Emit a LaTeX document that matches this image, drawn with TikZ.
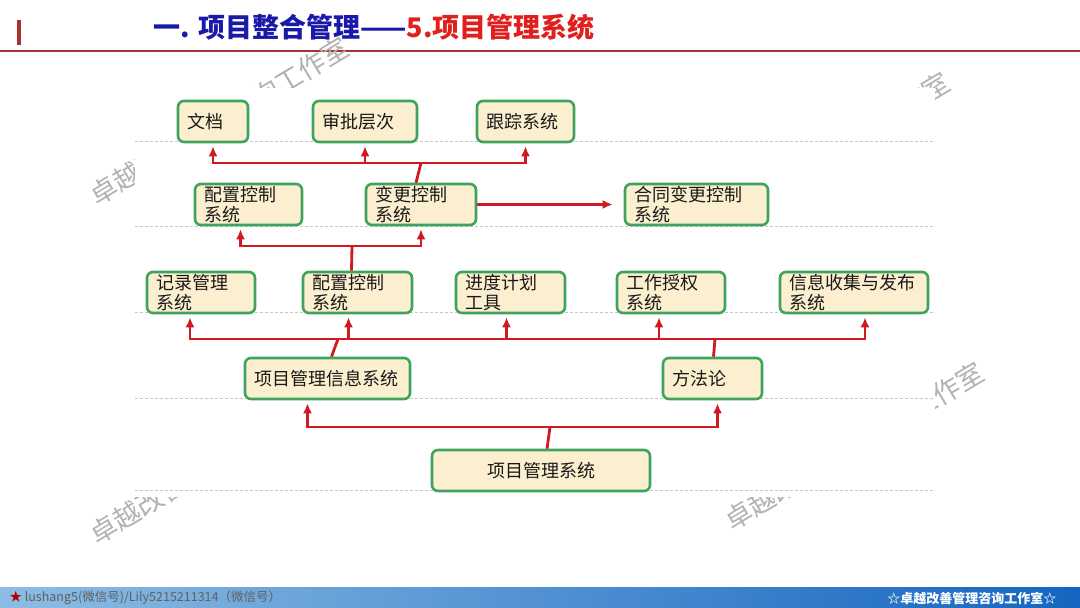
\documentclass[tikz,border=0pt]{standalone}
\usepackage{fontspec}
\setmainfont{Noto Sans CJK SC}
\usepackage{tikz}
\usetikzlibrary{arrows.meta,calc}

\definecolor{boxfill}{HTML}{FCEFD0}
\definecolor{boxgreen}{HTML}{3DA35D}
\definecolor{arrred}{HTML}{D01A22}
\definecolor{titleblue}{HTML}{1A1AA8}
\definecolor{titlered}{HTML}{E0201E}
\definecolor{rulered}{HTML}{A83232}
\definecolor{barlight}{HTML}{E2EEF8}
\definecolor{barleft}{HTML}{8DBDE4}
\definecolor{barright}{HTML}{1565C0}

\begin{document}
\begin{tikzpicture}[x=1pt, y=-1pt,
  font=\fontsize{18}{20}\selectfont,
  box/.style={draw=boxgreen, fill=boxfill, line width=2.6pt, rounded corners=6pt,
    inner xsep=9pt, inner ysep=0pt, minimum height=41pt, align=left,
    text=black!90, text width=#1},
  box/.default=80pt,
  arr/.style={-{Latex[length=10pt,width=9pt]}, draw=arrred, line width=2.8pt, shorten >=3pt},
  ln/.style={draw=arrred, line width=2.8pt},
  guide/.style={draw=gray!45, dash pattern=on 3pt off 2pt, line width=0.8pt},
  wm/.style={text=gray!60, font=\fontsize{27}{27}\selectfont, rotate=31, inner sep=0pt}
]
\useasboundingbox (0,0) rectangle (1080,608);
\fill[white] (0,0) rectangle (1080,608);

% title
\fill[rulered] (17,20) rectangle (21,45);
\draw[rulered, line width=1.5pt] (0,51) -- (1080,51);
\node[anchor=west, font=\fontsize{27}{27}\selectfont\bfseries] (ttl) at (150,27)
  {\textcolor{titleblue}{一. 项目整合管理——}\textcolor{titlered}{5.项目管理系统}};

% watermarks, mostly hidden under the diagram
\node[wm, anchor=west] (wm1) at (92,198) {卓越改善管理咨询工作室};
\node[wm, anchor=east] (wm2) at (948,80) {卓越改善管理咨询工作室};
\node[wm, anchor=west] (wm3) at (727,523) {卓越改善管理咨询工作室};
\node[wm, anchor=west] (wm4) at (92,537) {卓越改善管理咨询工作室};
\fill[white] (135,88) rectangle (935,497);

\foreach \y in {141,226,312,398,490}
  \draw[guide] (135,\y) -- (935,\y);

% row 1
\node[box=52pt] (wd) at (213,121.5) {文档};
\node[box=86pt] (sp) at (365,121.5) {审批层次};
\node[box=79pt] (gz) at (525.5,121.5) {跟踪系统};
% row 2
\node[box=89pt] (pz) at (248.5,204.5) {配置控制\\系统};
\node[box=92pt] (bg) at (421,204.5) {变更控制\\系统};
\node[box=125pt] (ht) at (696.5,204.5) {合同变更控制\\系统};
% row 3
\node[box=90pt] (jl) at (201,292.5) {记录管理\\系统};
\node[box=91pt] (pz2) at (357.5,292.5) {配置控制\\系统};
\node[box=91pt] (jd) at (510.5,292.5) {进度计划\\工具};
\node[box=90pt] (gzsq) at (671,292.5) {工作授权\\系统};
\node[box=130pt] (xx) at (854,292.5) {信息收集与发布\\系统};
% row 4
\node[box=147pt] (mis) at (327.5,378.5) {项目管理信息系统};
\node[box=81pt] (ff) at (712.5,378.5) {方法论};
% row 5
\node[box=200pt, align=center] (pms) at (541,470.5) {项目管理系统};

% connectors
\coordinate (b1) at (421,163);
\draw[ln] ([xshift=-5pt]bg.north) -- (b1);
\draw[arr] (b1) -| (wd.south);
\draw[arr] (b1) -| (gz.south);
\draw[arr] (sp.south |- b1) -- (sp.south);
\draw[arr] (bg.east) -- ([xshift=-8pt]ht.west);

\coordinate (b2) at (352,246);
\draw[ln] ([xshift=-6pt]pz2.north) -- (b2);
\draw[arr] (b2) -| ([xshift=-8pt]pz.south);
\draw[arr] (b2) -| (bg.south);

\coordinate (b3l) at (338,339);
\coordinate (b3r) at (715,339);
\draw[ln] ([xshift=4pt]mis.north) -- (b3l);
\draw[ln] ([xshift=1pt]ff.north) -- (b3r);
\draw[ln] (b3l) -- (b3r);
\draw[arr] (b3l) -| ([xshift=-11pt]jl.south);
\draw[arr] (b3r) -| ([xshift=11pt]xx.south);
\draw[arr] ([xshift=-9pt]pz2.south |- b3l) -- ([xshift=-9pt]pz2.south);
\draw[arr] ([xshift=-4pt]jd.south |- b3l) -- ([xshift=-4pt]jd.south);
\draw[arr] ([xshift=-12pt]gzsq.south |- b3l) -- ([xshift=-12pt]gzsq.south);

\coordinate (b4) at (550,427);
\draw[ln] ([xshift=6pt]pms.north) -- (b4);
\draw[arr] (b4) -| ([xshift=-20pt]mis.south);
\draw[arr] (b4) -| ([xshift=5pt]ff.south);

% footer
\shade[left color=barleft, middle color=barlight, right color=barright] (0,587) rectangle (1080,608);
\node[anchor=west, font=\fontsize{12.5}{13}\selectfont, text=gray!75!black] (ftl) at (6,598)
  {\textcolor{red!70!black}{★} lushang5(微信号)/Lily5215211314（微信号）};
\node[anchor=east, font=\fontsize{13}{13}\selectfont\bfseries, text=white] (ftr) at (1060,598)
  {☆卓越改善管理咨询工作室☆};
\end{tikzpicture}
\end{document}
